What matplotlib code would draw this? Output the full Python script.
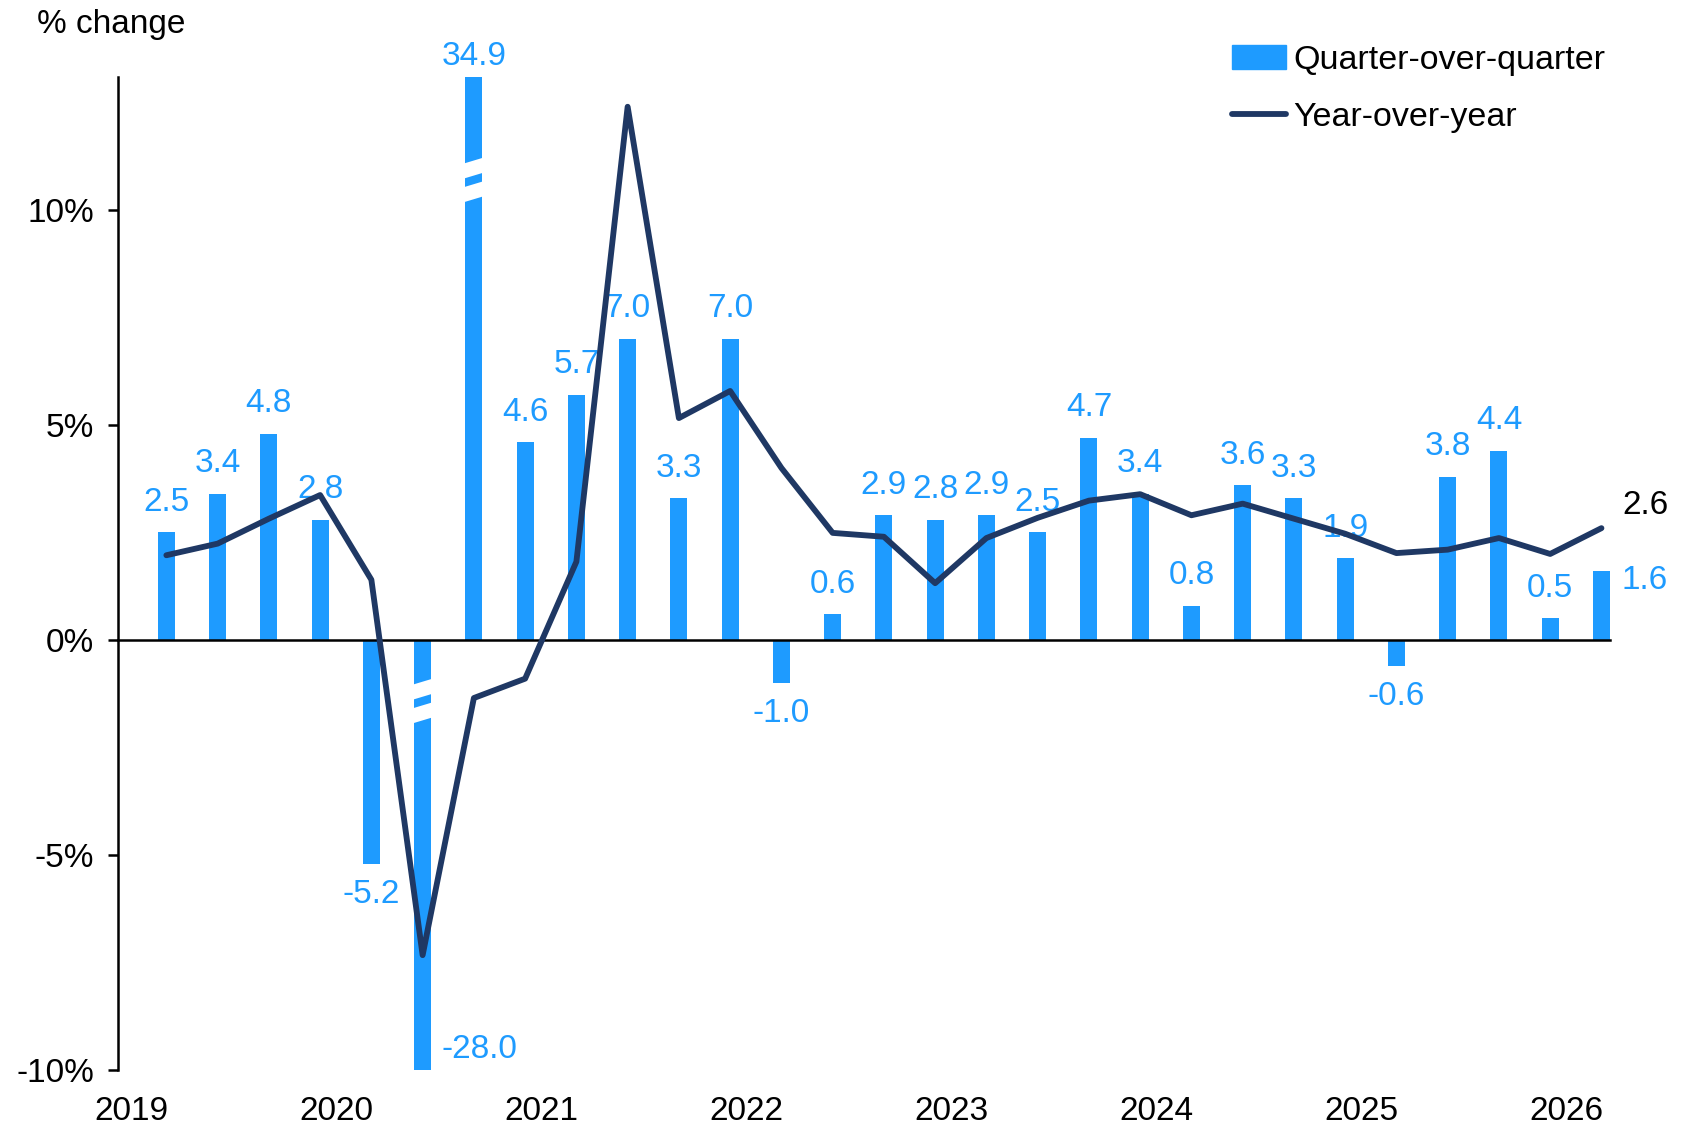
import numpy as np
import matplotlib
matplotlib.use("Agg")
import matplotlib.pyplot as plt
from matplotlib.patches import Patch
from matplotlib.lines import Line2D

plt.rcParams['font.family'] = ['Liberation Sans', 'DejaVu Sans']

# data
years = ["2019", "2020", "2021", "2022", "2023", "2024", "2025", "2026"]
qoq = [2.5, 3.4, 4.8, 2.8, -5.2, -28.0, 34.9, 4.6, 5.7, 7.0, 3.3, 7.0,
       -1.0, 0.6, 2.9, 2.8, 2.9, 2.5, 4.7, 3.4, 0.8, 3.6, 3.3, 1.9,
       -0.6, 3.8, 4.4, 0.5, 1.6]
yoy = [1.97, 2.24, 2.82, 3.37, 1.4, -7.33, -1.35, -0.9, 1.82, 12.4, 5.16, 5.79,
       4.0, 2.49, 2.4, 1.32, 2.37, 2.84, 3.24, 3.39, 2.9, 3.17, 2.82, 2.47,
       2.02, 2.1, 2.37, 2.0, 2.6]
yticks = [-10, -5, 0, 5, 10]

bar_color = "#1E9BFF"
line_color = "#1F3864"
fs = 24
bar_w = 0.33
ylo, yhi = -10, 13.1

fig = plt.figure(figsize=(16.83, 11.27), dpi=100)
ax = fig.add_axes([0.0701, 0.0506, 0.8865, 0.8814])

x = np.arange(len(qoq))
ax.bar(x, qoq, width=bar_w, color=bar_color, zorder=2)
ax.plot(x, yoy, color=line_color, linewidth=4.2, zorder=4, solid_capstyle='round')

ax.set_xlim(-0.944, len(qoq) - 1 + 0.166)
ax.set_ylim(ylo, yhi)

# break marks on the clipped bars
def draw_break(xc, yc):
    hw = bar_w / 2 + 0.03
    s = 0.07
    for a, b in [(yc + 0.1, yc + 0.45), (yc - 0.45, yc - 0.1)]:
        ax.fill([xc - hw, xc + hw, xc + hw, xc - hw],
                [a - s, a + s, b + s, b - s], color="white", zorder=3, lw=0)

for i, v in enumerate(qoq):
    if v > yhi:
        draw_break(i, 10.7)
    elif v < ylo:
        draw_break(i, -1.42)

# data labels
for i, v in enumerate(qoq):
    lbl = f"{v:.1f}"
    yd = min(max(v, ylo), yhi)
    if i == len(qoq) - 1:
        ax.annotate(lbl, (i, yd), xytext=(20, -9), textcoords="offset pixels",
                    ha="left", va="center", color=bar_color, fontsize=fs, clip_on=False)
    elif v < ylo:
        ax.annotate(lbl, (i, yd), xytext=(19, 20), textcoords="offset pixels",
                    ha="left", va="center", color=bar_color, fontsize=fs, clip_on=False)
    elif v > yhi:
        ax.annotate(lbl, (i, yd), xytext=(0, 20), textcoords="offset pixels",
                    ha="center", va="center", color=bar_color, fontsize=fs, clip_on=False)
    elif v >= 0:
        ax.annotate(lbl, (i, yd), xytext=(0, 30), textcoords="offset pixels",
                    ha="center", va="center", color=bar_color, fontsize=fs, clip_on=False)
    else:
        ax.annotate(lbl, (i, yd), xytext=(0, -31), textcoords="offset pixels",
                    ha="center", va="center", color=bar_color, fontsize=fs, clip_on=False)

ax.annotate(f"{yoy[-1]:.1f}", (x[-1], yoy[-1]), xytext=(21, 23), textcoords="offset pixels",
            ha="left", va="center", color="black", fontsize=fs)

# axes styling
for s in ["top", "right"]:
    ax.spines[s].set_visible(False)
ax.spines["bottom"].set_position(("data", 0))
ax.spines["bottom"].set_linewidth(1.8)
ax.spines["left"].set_linewidth(1.8)
ax.set_xticks([])
ax.set_yticks(yticks)
ax.set_yticklabels([f"{t}%" for t in yticks], fontsize=fs)
ax.tick_params(axis="y", length=7, width=1.8, pad=10)

for k, yr in enumerate(years):
    ax.text(4 * k - 0.68, -0.042, yr, transform=ax.get_xaxis_transform(),
            ha="center", va="center", fontsize=fs)

fig.text(0.022, 0.978, "% change", ha="left", va="center", fontsize=fs)

handles = [Patch(color=bar_color), Line2D([0], [0], color=line_color, lw=4.2, solid_capstyle='round')]
fig.legend(handles, ["Quarter-over-quarter", "Year-over-year"], loc="upper left",
           bbox_to_anchor=(0.732, 0.96), frameon=False, fontsize=24.5,
           handlelength=1.6, handletextpad=0.2, labelspacing=0.75,
           borderpad=0, borderaxespad=0)

plt.savefig("out.png", dpi=100)
